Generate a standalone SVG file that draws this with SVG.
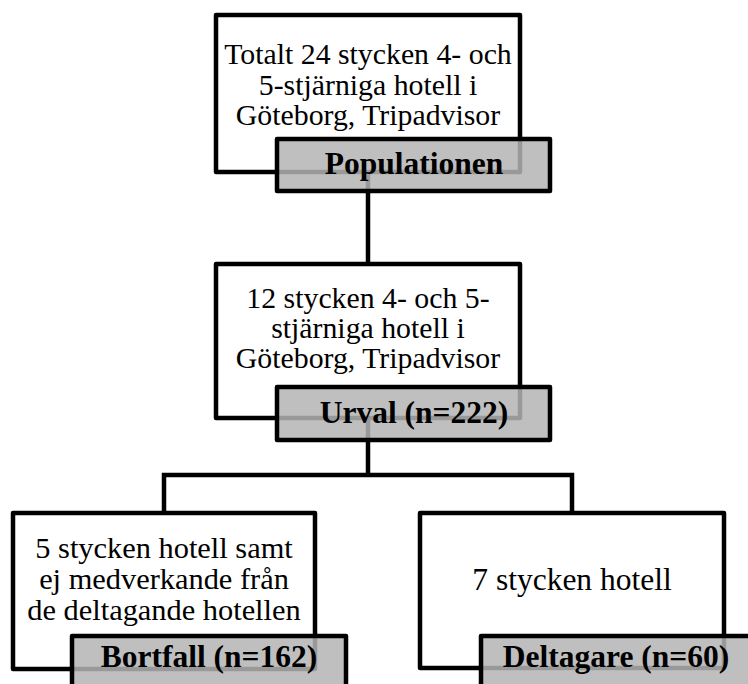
<svg xmlns="http://www.w3.org/2000/svg" width="748" height="684" viewBox="0 0 748 684">
<style>
.box{fill:#ffffff;stroke:#000000;stroke-width:4.5;stroke-linejoin:round}
.lab{fill:#b4b4b4;fill-opacity:0.85;stroke:#000000;stroke-width:4.5;stroke-linejoin:round}
.con{fill:none;stroke:#000000;stroke-width:4.5}
.t{font-family:"Liberation Serif","Times New Roman",serif;font-size:29.8px;fill:#000;text-anchor:middle}
.tb{font-family:"Liberation Serif","Times New Roman",serif;font-size:31.5px;font-weight:bold;fill:#000;text-anchor:middle}
.t2{font-size:30.4px}
.t3{font-size:31.5px}
</style>
<rect width="748" height="684" fill="#ffffff"/>
<g id="connectors">
<path class="con" d="M368,172 V264"/>
<path class="con" d="M368,418 V475"/>
<path class="con" d="M164,513 V475 H572 V513"/>
</g>
<g id="population">
<rect class="box" x="216" y="15" width="304" height="157"/>
<text class="t" x="368" y="64">Totalt 24 stycken 4- och</text>
<text class="t" x="368" y="95">5-stjärniga hotell i</text>
<text class="t" x="368" y="125">Göteborg, Tripadvisor</text>
<rect class="lab" x="277" y="139" width="273" height="52"/>
<text class="tb" x="414" y="174">Populationen</text>
</g>
<g id="urval">
<rect class="box" x="216" y="264" width="304" height="154"/>
<text class="t" x="368" y="308">12 stycken 4- och 5-</text>
<text class="t" x="368" y="338">stjärniga hotell i</text>
<text class="t" x="368" y="368">Göteborg, Tripadvisor</text>
<rect class="lab" x="277" y="387" width="273" height="53"/>
<text class="tb" x="414" y="423">Urval (n=222)</text>
</g>
<g id="bortfall">
<rect class="box" x="13" y="513" width="302" height="156"/>
<text class="t t2" x="164" y="558">5 stycken hotell samt</text>
<text class="t t2" x="164" y="589">ej medverkande från</text>
<text class="t t2" x="164" y="620">de deltagande hotellen</text>
<rect class="lab" x="72" y="636" width="274" height="53"/>
<text class="tb" x="209" y="667">Bortfall (n=162)</text>
</g>
<g id="deltagare">
<rect class="box" x="420" y="513" width="304" height="155"/>
<text class="t t3" x="572" y="590">7 stycken hotell</text>
<rect class="lab" x="481" y="636" width="270" height="53"/>
<text class="tb" x="616" y="667">Deltagare (n=60)</text>
</g>
</svg>
